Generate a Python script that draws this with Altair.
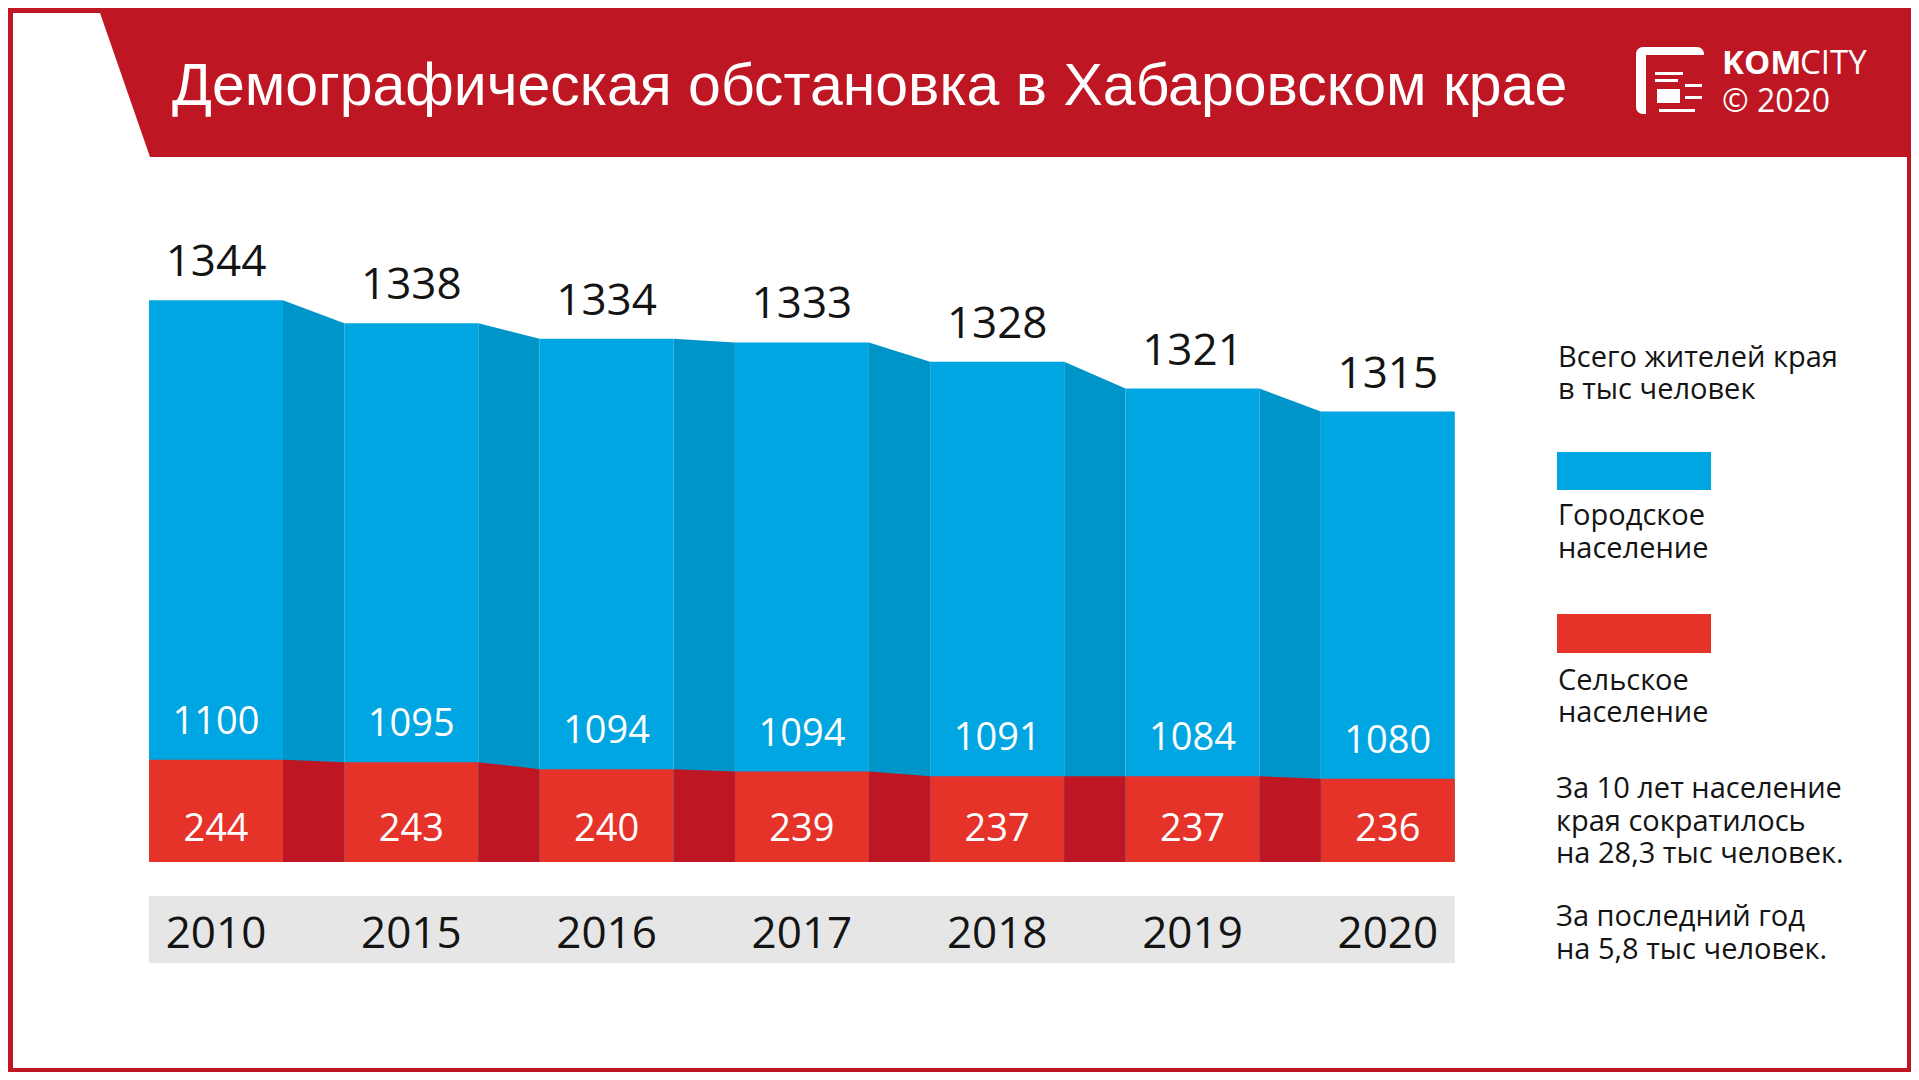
import altair as alt
import pandas as pd

# ---------------- data ----------------
YEARS = ["2010", "2015", "2016", "2017", "2018", "2019", "2020"]
TOTAL = [1344, 1338, 1334, 1333, 1328, 1321, 1315]
URBAN = [1100, 1095, 1094, 1094, 1091, 1084, 1080]
RURAL = [244, 243, 240, 239, 237, 237, 236]

TITLE = "Демографическая обстановка в Хабаровском крае"
LEGEND_TOTAL = ["Всего жителей края", "в тыс человек"]
LEGEND_URBAN = ["Городское", "население"]
LEGEND_RURAL = ["Сельское", "население"]
NOTE_1 = ["За 10 лет население", "края сократилось", "на 28,3 тыс человек."]
NOTE_2 = ["За последний год", "на 5,8 тыс человек."]

# ---------------- layout / style ----------------
W, H = 1903, 1064
FONT = "Open Sans"
TITLE_FONT = "Liberation Sans"
BLUE, BLUE_DARK = "#00a6e1", "#0095c8"
RED, RED_DARK = "#e5332a", "#be1622"
FRAME_RED = "#be1622"
GREY = "#e6e6e6"
INK = "#141414"

PITCH, X_FIRST, HALF = 195.3, 208.0, 0.343
BASE_Y = 854.0
B_V0, B_Y0, B_K = 1330.43, 344.33, 3.838   # total scale (truncated, as drawn)
R_V0, R_Y0, R_K = 239.43, 762.56, 2.36     # rural scale (truncated, as drawn)

XS = alt.Scale(domain=[-X_FIRST / PITCH, (W - X_FIRST) / PITCH], nice=False, zero=False)
BY = alt.Scale(domain=[B_V0 - (H - B_Y0) / B_K, B_V0 + B_Y0 / B_K], nice=False, zero=False)
RY = alt.Scale(domain=[R_V0 - (H - R_Y0) / R_K, R_V0 + R_Y0 / R_K], nice=False, zero=False)
B_BASE = B_V0 - (BASE_Y - B_Y0) / B_K
R_BASE = R_V0 - (BASE_Y - R_Y0) / R_K
DX = alt.Scale(domain=[0, W], nice=False, zero=False)
DY = alt.Scale(domain=[0, H], reverse=True, nice=False, zero=False)

bars = pd.DataFrame({"idx": list(range(len(YEARS))), "year": YEARS,
                     "total": TOTAL, "urban": URBAN, "rural": RURAL})
bars["xl"] = bars["idx"] - HALF
bars["xr"] = bars["idx"] + HALF

rows = []
for i in range(len(YEARS) - 1):
    rows.append({"seg": i, "cx": i + HALF, "total": TOTAL[i], "rural": RURAL[i]})
    rows.append({"seg": i, "cx": i + 1 - HALF, "total": TOTAL[i + 1], "rural": RURAL[i + 1]})
conn = pd.DataFrame(rows)

one = alt.Data(values=[{}])


def rect(x, x2, y, y2, color, **kw):
    return alt.Chart(one).mark_rect(color=color, **kw).encode(
        x=alt.value(x), x2=alt.value(x2), y=alt.value(y), y2=alt.value(y2))


def label(text, x, y, size, color=INK, font=FONT, weight="normal", align="left", lh=32):
    return alt.Chart(one).mark_text(text=text, font=font, fontSize=size, color=color,
                                    fontWeight=weight, align=align, baseline="alphabetic",
                                    lineHeight=lh).encode(x=alt.value(x), y=alt.value(y))


# ---------------- frame / header ----------------
white_area = rect(5, 1899, 149, 1060, "white")
trap = alt.Chart(pd.DataFrame({"ty": [5, 149], "tx": [92, 142], "tx2": [5, 5]})).mark_area(
    orient="horizontal", color="white").encode(
    y=alt.Y("ty:Q", scale=DY, axis=None),
    x=alt.X("tx:Q", scale=DX, axis=None),
    x2="tx2:Q")
title = label(TITLE, 164, 97, 59, color="white", font=TITLE_FONT)

logo = [
    rect(1628, 1696, 39, 106, "white", cornerRadius=7),
    rect(1638, 1697, 47, 107, FRAME_RED),
    rect(1647, 1675, 64, 67, "white"),
    rect(1647, 1670, 71, 74, "white"),
    rect(1649, 1672, 81, 95, "white"),
    rect(1677, 1694, 76, 79, "white"),
    rect(1677, 1694, 88, 91, "white"),
    rect(1651, 1687, 101, 104, "white"),
    label("KOM", 1714, 66, 33, color="white", weight="bold"),
    label("CITY", 1792, 66, 33, color="white"),
    label("© 2020", 1714, 104, 32, color="white"),
]

# ---------------- chart ----------------
blue_bars = alt.Chart(bars).mark_rect(color=BLUE).encode(
    x=alt.X("xl:Q", scale=XS, axis=None), x2="xr:Q",
    y=alt.Y("total:Q", scale=BY, axis=None), y2=alt.datum(B_BASE))
blue_conn = alt.Chart(conn).mark_area(color=BLUE_DARK).encode(
    x=alt.X("cx:Q", scale=XS, axis=None),
    y=alt.Y("total:Q", scale=BY, axis=None), y2=alt.datum(B_BASE),
    detail="seg:N")
red_bars = alt.Chart(bars).mark_rect(color=RED).encode(
    x=alt.X("xl:Q", scale=XS, axis=None), x2="xr:Q",
    y=alt.Y("rural:Q", scale=RY, axis=None), y2=alt.datum(R_BASE))
red_conn = alt.Chart(conn).mark_area(color=RED_DARK).encode(
    x=alt.X("cx:Q", scale=XS, axis=None),
    y=alt.Y("rural:Q", scale=RY, axis=None), y2=alt.datum(R_BASE),
    detail="seg:N")
band = alt.Chart(bars).mark_rect(color=GREY).encode(
    x=alt.X("min(xl):Q", scale=XS, axis=None), x2="max(xr):Q",
    y=alt.value(888), y2=alt.value(955))

top_lbl = alt.Chart(bars).mark_text(font=FONT, fontSize=44, color=INK, dy=-24,
                                    baseline="alphabetic").encode(
    x=alt.X("idx:Q", scale=XS, axis=None),
    y=alt.Y("total:Q", scale=BY, axis=None),
    text=alt.Text("total:Q", format="d"))
urban_lbl = alt.Chart(bars).mark_text(font=FONT, fontSize=38, color="white", dy=-26,
                                      baseline="alphabetic").encode(
    x=alt.X("idx:Q", scale=XS, axis=None),
    y=alt.Y("rural:Q", scale=RY, axis=None),
    text=alt.Text("urban:Q", format="d"))
rural_lbl = alt.Chart(bars).mark_text(font=FONT, fontSize=38, color="white",
                                      baseline="alphabetic").encode(
    x=alt.X("idx:Q", scale=XS, axis=None), y=alt.value(833),
    text=alt.Text("rural:Q", format="d"))
year_lbl = alt.Chart(bars).mark_text(font=FONT, fontSize=44, color=INK,
                                     baseline="alphabetic").encode(
    x=alt.X("idx:Q", scale=XS, axis=None), y=alt.value(940),
    text="year:N")

# ---------------- legend / notes ----------------
legend = [
    label(LEGEND_TOTAL, 1550, 359, 29),
    rect(1549, 1703, 444, 482, BLUE),
    label(LEGEND_URBAN, 1550, 517, 29, lh=33),
    rect(1549, 1703, 606, 645, RED),
    label(LEGEND_RURAL, 1550, 682, 29, lh=32),
    label(NOTE_1, 1548, 790, 29, lh=32.5),
    label(NOTE_2, 1548, 918, 29, lh=33),
]

chart = alt.layer(
    white_area, trap, title, *logo,
    blue_bars, blue_conn, red_bars, red_conn, band,
    top_lbl, urban_lbl, rural_lbl, year_lbl, *legend
).resolve_scale(x="independent", y="independent").properties(
    width=W, height=H, padding=0, background=FRAME_RED,
    autosize=alt.AutoSizeParams(type="none")
).configure_view(strokeWidth=0)

chart.save("out.html", embed_options={"renderer": "svg", "actions": False})
